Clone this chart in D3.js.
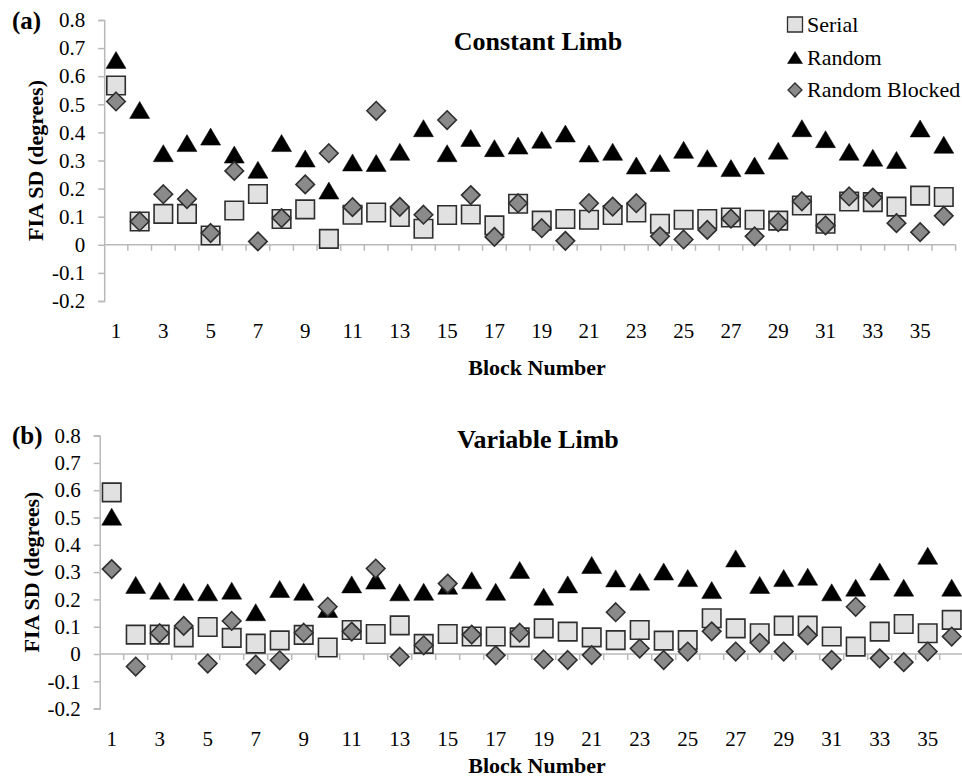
<!DOCTYPE html>
<html><head><meta charset="utf-8">
<script src="https://cdn.jsdelivr.net/npm/d3@7"></script>
<style>
body{margin:0;background:#fff}
svg{display:block}
text{font-family:"Liberation Serif","Times New Roman",Times,serif;fill:#000}
</style>
</head><body>
<svg id="chart" width="962" height="780"></svg>
<script>
// ---------- data ----------
const blocks = [1,2,3,4,5,6,7,8,9,10,11,12,13,14,15,16,17,18,19,20,21,22,23,24,25,26,27,28,29,30,31,32,33,34,35,36];
const xTickLabels = [1,3,5,7,9,11,13,15,17,19,21,23,25,27,29,31,33,35];
const yTicks = [-0.2,-0.1,0,0.1,0.2,0.3,0.4,0.5,0.6,0.7,0.8];
const yTickLabels = ["-0.2","-0.1","0","0.1","0.2","0.3","0.4","0.5","0.6","0.7","0.8"];
const seriesNames = ["Serial","Random","Random Blocked"];

// (a) Constant Limb
const constantSerial = [0.567,0.083,0.110,0.110,0.033,0.122,0.181,0.092,0.126,0.021,0.107,0.115,0.099,0.057,0.106,0.108,0.069,0.146,0.086,0.092,0.089,0.106,0.115,0.075,0.089,0.092,0.097,0.089,0.086,0.140,0.075,0.154,0.152,0.136,0.175,0.170];
const constantRandom = [0.658,0.480,0.326,0.362,0.385,0.321,0.267,0.362,0.307,0.193,0.293,0.291,0.331,0.415,0.326,0.380,0.344,0.353,0.374,0.396,0.325,0.331,0.282,0.291,0.338,0.308,0.273,0.282,0.335,0.415,0.376,0.331,0.310,0.302,0.414,0.356];
const constantRandomBlocked = [0.510,0.083,0.180,0.163,0.042,0.263,0.012,0.095,0.215,0.326,0.134,0.477,0.135,0.107,0.444,0.177,0.028,0.148,0.059,0.014,0.148,0.136,0.148,0.030,0.019,0.053,0.093,0.030,0.081,0.155,0.069,0.172,0.168,0.077,0.045,0.103];

// (b) Variable Limb
const variableSerial = [0.592,0.071,0.071,0.061,0.099,0.059,0.038,0.050,0.070,0.024,0.088,0.073,0.105,0.037,0.073,0.064,0.064,0.061,0.094,0.082,0.061,0.051,0.088,0.049,0.051,0.131,0.094,0.076,0.104,0.104,0.064,0.027,0.082,0.110,0.076,0.125];
const variableRandom = [0.503,0.253,0.232,0.228,0.226,0.232,0.153,0.238,0.228,0.165,0.255,0.269,0.226,0.228,0.250,0.270,0.228,0.308,0.210,0.255,0.326,0.277,0.265,0.302,0.278,0.234,0.350,0.253,0.278,0.283,0.226,0.243,0.302,0.243,0.360,0.243];
const variableRandomBlocked = [0.311,-0.046,0.076,0.103,-0.035,0.121,-0.039,-0.023,0.078,0.173,0.082,0.313,-0.010,0.032,0.258,0.071,-0.005,0.078,-0.020,-0.022,-0.004,0.153,0.020,-0.022,0.009,0.083,0.009,0.041,0.009,0.068,-0.022,0.173,-0.016,-0.030,0.009,0.064];

// ---------- drawing ----------
const svg = d3.select("#chart");
const AXIS = "#b9b9b9";

function squarePath(s){const h=s/2;return `M${-h},${-h}H${h}V${h}H${-h}Z`;}
function trianglePath(w,hgt){return `M0,${-hgt/2}L${w/2},${hgt/2}L${-w/2},${hgt/2}Z`;}
function diamondPath(s){const h=s/2;return `M0,${-h}L${h},0L0,${h}L${-h},0Z`;}

const markerStyles = [
  {path: squarePath(18.5), fill:"#e1e1e1", stroke:"#2e2e2e", sw:1.6, legendPath: squarePath(15)},
  {path: trianglePath(20,17), fill:"#000", stroke:"#000", sw:0.5, legendPath: trianglePath(15,12)},
  {path: diamondPath(18.5), fill:"#8a8a8a", stroke:"#2e2e2e", sw:1.6, legendPath: diamondPath(14)}
];

function drawPanel(cfg){
  const g = svg.append("g");
  const x = d3.scaleBand().domain(blocks).range(cfg.xRange).paddingInner(0).paddingOuter(0);
  const y = d3.scaleLinear().domain([-0.2,0.8]).range(cfg.yRange);

  // y axis
  const yAxis = d3.axisLeft(y).tickValues(yTicks).tickSize(6).tickPadding(13)
    .tickFormat((d,i)=>yTickLabels[i]);
  const ya = g.append("g").attr("transform",`translate(${cfg.xRange[0]},0)`).call(yAxis);
  ya.attr("font-family",null);
  ya.select(".domain").attr("stroke",AXIS).attr("stroke-width",1.5);
  ya.selectAll(".tick line").attr("stroke",AXIS).attr("stroke-width",1.5);
  ya.selectAll(".tick text").attr("font-size",21).attr("fill","#000");

  // x axis line at 0 with ticks at category boundaries
  const y0 = y(0);
  g.append("line").attr("x1",cfg.xRange[0]).attr("x2",cfg.xRange[1]).attr("y1",y0).attr("y2",y0)
    .attr("stroke",AXIS).attr("stroke-width",1.5);
  const bounds = blocks.map(b=>x(b)+x.bandwidth());
  g.selectAll(".xt").data(bounds).join("line")
    .attr("x1",d=>d).attr("x2",d=>d).attr("y1",y0).attr("y2",y0+6)
    .attr("stroke",AXIS).attr("stroke-width",1.5);
  g.selectAll(".xl").data(xTickLabels).join("text")
    .attr("x",d=>x(d)+x.bandwidth()/2).attr("y",cfg.labelY)
    .attr("text-anchor","middle").attr("font-size",21).text(d=>d);

  // series
  cfg.series.forEach((vals,si)=>{
    const st = markerStyles[si];
    g.append("g").selectAll("path").data(vals).join("path")
      .attr("d",st.path)
      .attr("transform",(v,i)=>`translate(${x(blocks[i])+x.bandwidth()/2},${y(v)})`)
      .attr("fill",st.fill).attr("stroke",st.stroke).attr("stroke-width",st.sw)
      .attr("stroke-linejoin","miter");
  });

  // texts
  g.append("text").attr("x",12).attr("y",cfg.tagY).attr("font-size",25).attr("font-weight","bold").text(cfg.tag);
  g.append("text").attr("x",538).attr("y",cfg.titleY).attr("text-anchor","middle")
    .attr("font-size",26).attr("font-weight","bold").text(cfg.title);
  g.append("text").attr("transform",`translate(${cfg.yTitleX},${(cfg.yRange[0]+cfg.yRange[1])/2}) rotate(-90)`)
    .attr("text-anchor","middle").attr("dominant-baseline","central")
    .attr("font-size",22).attr("font-weight","bold").text("FIA SD (degrees)");
  g.append("text").attr("x",537).attr("y",cfg.xTitleY).attr("text-anchor","middle")
    .attr("font-size",22).attr("font-weight","bold").text("Block Number");
}

drawPanel({
  xRange:[104.2,955.6], yRange:[301,20], labelY:338, xTitleY:375,
  tag:"(a)", tagY:29, title:"Constant Limb", titleY:50, yTitleX:35,
  series:[constantSerial, constantRandom, constantRandomBlocked]
});
drawPanel({
  xRange:[99.7,963.7], yRange:[708.6,435.6], labelY:746, xTitleY:773,
  tag:"(b)", tagY:444, title:"Variable Limb", titleY:448, yTitleX:31,
  series:[variableSerial, variableRandom, variableRandomBlocked]
});

// legend
const legend = svg.append("g");
const legendY = [24.5, 57.5, 90];
seriesNames.forEach((name,i)=>{
  const st = markerStyles[i];
  legend.append("path").attr("d",st.legendPath).attr("transform",`translate(795,${legendY[i]})`)
    .attr("fill",st.fill).attr("stroke",st.stroke).attr("stroke-width",i===1?0.5:1.3);
  legend.append("text").attr("x",807).attr("y",legendY[i]+7).attr("font-size",22).text(name);
});
</script>
</body></html>
